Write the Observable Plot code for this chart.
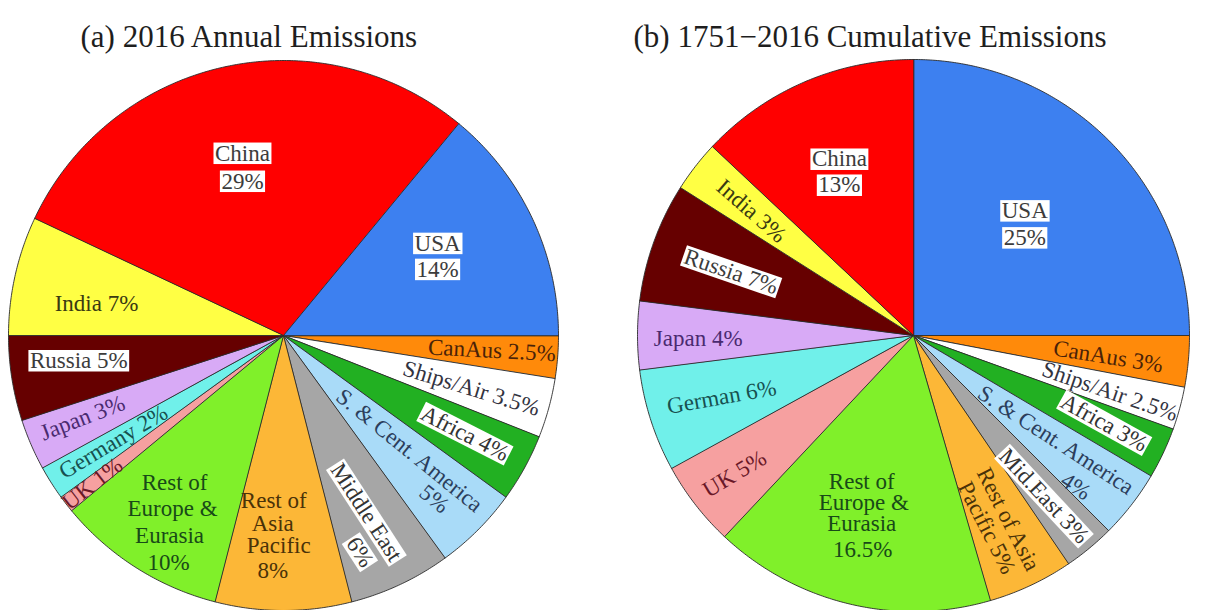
<!DOCTYPE html>
<html><head><meta charset="utf-8">
<script src="https://cdn.jsdelivr.net/npm/d3@7"></script>
<script src="https://cdn.jsdelivr.net/npm/@observablehq/plot@0.6"></script>
<style>
body{margin:0;background:#fff;overflow:hidden}
#row{display:flex;width:1207px;height:610px}
#row svg{display:block}
</style></head><body><div id="row"></div>
<script>
// ---------------- data ----------------
const annualTitle = "(a) 2016 Annual Emissions";
const annualRegions = ["CanAus","Ships/Air","Africa","S. & Cent. America","Middle East","Rest of Asia Pacific","Rest of Europe & Eurasia","UK","Germany","Japan","Russia","India","China","USA"];
const annualShares = [2.5,3.5,4,5,6,8,10,1,2,3,5,7,29,14];
const annualLabels = [["CanAus 2.5%"],["Ships/Air 3.5%"],["Africa 4%"],["S. & Cent. America","5%"],["Middle East","6%"],["Rest of","Asia","Pacific","8%"],["Rest of","Europe &","Eurasia","10%"],["UK 1%"],["Germany 2%"],["Japan 3%"],["Russia 5%"],["India 7%"],["China","29%"],["USA","14%"]];

const cumulativeTitle = "(b) 1751\u22122016 Cumulative Emissions";
const cumulativeRegions = ["USA","CanAus","Ships/Air","Africa","S. & Cent. America","Mid.East","Rest of Asia Pacific","Rest of Europe & Eurasia","UK","German","Japan","Russia","India","China"];
const cumulativeShares = [25,3,2.5,3,4,3,5,16.5,5,6,4,7,3,13];
const cumulativeLabels = [["USA","25%"],["CanAus 3%"],["Ships/Air 2.5%"],["Africa 3%"],["S. & Cent. America","4%"],["Mid.East 3%"],["Rest of Asia","Pacific 5%"],["Rest of","Europe &","Eurasia","16.5%"],["UK 5%"],["German 6%"],["Japan 4%"],["Russia 7%"],["India 3%"],["China","13%"]];

// ---------------- styles ----------------
const sliceColors = {"USA":"#3d80f0","CanAus":"#ff8a0a","Ships/Air":"#ffffff","Africa":"#22b022","S. & Cent. America":"#a9dbf8","Middle East":"#a6a6a6","Mid.East":"#a6a6a6","Rest of Asia Pacific":"#fcb737","Rest of Europe & Eurasia":"#80f02a","UK":"#f6a0a0","Germany":"#70f0ea","German":"#70f0ea","Japan":"#d8aaf6","Russia":"#660000","India":"#ffff44","China":"#ff0000"};
const labelColors = {"USA":"#3c3c3c","CanAus":"#4a2208","Ships/Air":"#33333f","Africa":"#333333","S. & Cent. America":"#2c3e5c","Middle East":"#333333","Mid.East":"#333333","Rest of Asia Pacific":"#4a3208","Rest of Europe & Eurasia":"#184a18","UK":"#6a1828","Germany":"#175050","German":"#175050","Japan":"#4a2a70","Russia":"#3c3c3c","India":"#3a3a12","China":"#3c3c3c"};

// label layout: radius fraction, angle tweak (deg), rotation (deg), per-line [along, perp] px offsets, white box
const annualLayout = [
  {r:0.76, da:-0.4, rot:3},
  {r:0.71, da:0.4, rot:17},
  {r:0.75, da:-0.4, rot:27, box:true},
  {r:0.62, da:-2.6, rot:39, off:[[0,0],[50,22]]},
  {r:0.71, da:0.1, rot:57, off:[[0,0],[30,27]], box:true},
  {r:0.73, da:2.5, rot:0, off:[[-1,-35],[-2,-12],[4,10],[-2,35]]},
  {r:0.79, da:-1.7, rot:0, off:[[2,-40],[0,-14],[-3,13],[-4,40]]},
  {r:0.88, da:0, rot:-38},
  {r:0.73, da:0.4, rot:-31},
  {r:0.79, da:1.1, rot:-21},
  {r:0.75, da:2, rot:0, box:true},
  {r:0.69, da:-2.9, rot:0},
  {r:0.63, da:-1.1, rot:0, off:[[0,-14],[0,14]], box:true},
  {r:0.63, da:-2, rot:0, off:[[0,-13],[0,13]], box:true}
];
const cumulativeLayout = [
  {r:0.57, da:0, rot:0, off:[[0,-13.5],[0,13.5]], box:true},
  {r:0.71, da:0.8, rot:9},
  {r:0.74, da:0.6, rot:19},
  {r:0.76, da:-0.6, rot:29, box:true},
  {r:0.64, da:-1.5, rot:33, off:[[0,0],[42,28]]},
  {r:0.75, da:0.5, rot:47, box:true},
  {r:0.75, da:1.1, rot:63, off:[[0,-11.5],[-2,11.5]]},
  {r:0.68, da:2.5, rot:0, off:[[0,-34],[2,-13],[0,8],[1,34]]},
  {r:0.82, da:0.1, rot:-31},
  {r:0.73, da:0.2, rot:-10},
  {r:0.78, da:-0.8, rot:0},
  {r:0.70, da:-0.5, rot:19, box:true},
  {r:0.74, da:-0.3, rot:41},
  {r:0.65, da:-1, rot:0, off:[[0,-13],[0,13]], box:true}
];

const FONT = "'Liberation Serif','Times New Roman',serif";
const H = 610;

function piePlot({title, regions, shares, labels, layout, startDeg, width, cx, cy, R, titleDx}) {
  const total = d3.sum(shares);
  let acc = 0;
  const slices = regions.map((name, i) => {
    const a0 = startDeg + acc / total * 360;
    acc += shares[i];
    const a1 = startDeg + acc / total * 360;
    return {name, a0, a1, mid: (a0 + a1) / 2};
  });
  const verts = [];
  for (const s of slices) {
    verts.push({name: s.name, x: 0, y: 0});
    const n = Math.max(2, Math.ceil((s.a1 - s.a0) / 0.5));
    for (let k = 0; k <= n; k++) {
      const a = (s.a0 + (s.a1 - s.a0) * k / n) * Math.PI / 180;
      verts.push({name: s.name, x: Math.sin(a), y: Math.cos(a)});
    }
  }
  const rows = [];
  slices.forEach((s, i) => {
    const L = layout[i];
    const a = (s.mid + (L.da || 0)) * Math.PI / 180;
    const ax = L.r * Math.sin(a), ay = L.r * Math.cos(a);
    const rr = (L.rot || 0) * Math.PI / 180;
    labels[i].forEach((line, j) => {
      const [al, pe] = (L.off && L.off[j]) || [0, 0];
      const sx = al * Math.cos(rr) - pe * Math.sin(rr);
      const sy = al * Math.sin(rr) + pe * Math.cos(rr);
      rows.push({name: s.name, text: line, x: ax + sx / R, y: ay - sy / R, rot: L.rot || 0, box: !!L.box});
    });
  });
  return Plot.plot({
    width, height: H, margin: 0,
    x: {domain: [-cx / R, (width - cx) / R], axis: null},
    y: {domain: [-(H - cy) / R, cy / R], axis: null},
    color: {type: "identity"},
    style: {fontFamily: FONT, background: "white", overflow: "visible"},
    marks: [
      Plot.line(verts, {x: "x", y: "y", z: "name", fill: d => sliceColors[d.name], stroke: "#2a2a2a", strokeWidth: 0.9, curve: "linear-closed", strokeLinejoin: "round"}),
      Plot.text(rows.filter(d => !d.box), {x: "x", y: "y", text: "text", rotate: "rot", fill: d => labelColors[d.name], fontSize: 23, fontFamily: FONT, textAnchor: "middle", lineAnchor: "middle"}),
      Plot.text(rows.filter(d => d.box), {x: "x", y: "y", text: "text", rotate: "rot", fill: d => labelColors[d.name], fontSize: 23, fontFamily: FONT, textAnchor: "middle", lineAnchor: "middle"}),
      Plot.text([title], {frameAnchor: "top-left", dx: titleDx, dy: 24, textAnchor: "start", fontSize: 31, fontFamily: FONT, fill: "#1e1e1e"})
    ]
  });
}

const row = document.getElementById("row");
const left = piePlot({title: annualTitle, regions: annualRegions, shares: annualShares, labels: annualLabels, layout: annualLayout, startDeg: 90, width: 604, cx: 283, cy: 335, R: 275, titleDx: 80});
const right = piePlot({title: cumulativeTitle, regions: cumulativeRegions, shares: cumulativeShares, labels: cumulativeLabels, layout: cumulativeLayout, startDeg: 0, width: 603, cx: 309, cy: 335, R: 276, titleDx: 29});
row.appendChild(left);
row.appendChild(right);

// white boxes behind the boxed labels (third mark layer of each plot)
for (const svg of [left, right]) {
  const layers = Array.from(svg.children).filter(el => el.tagName.toLowerCase() === "g");
  const boxedLayer = layers[2];
  if (!boxedLayer) continue;
  boxedLayer.querySelectorAll("text").forEach(t => {
    const b = t.getBBox();
    const rect = document.createElementNS("http://www.w3.org/2000/svg", "rect");
    rect.setAttribute("x", b.x - 1.5);
    rect.setAttribute("y", b.y + 2);
    rect.setAttribute("width", b.width + 3);
    rect.setAttribute("height", Math.max(0, b.height - 3.5));
    rect.setAttribute("fill", "#ffffff");
    const tr = t.getAttribute("transform");
    if (tr) rect.setAttribute("transform", tr);
    t.parentNode.insertBefore(rect, t);
  });
}
</script>
</body></html>
